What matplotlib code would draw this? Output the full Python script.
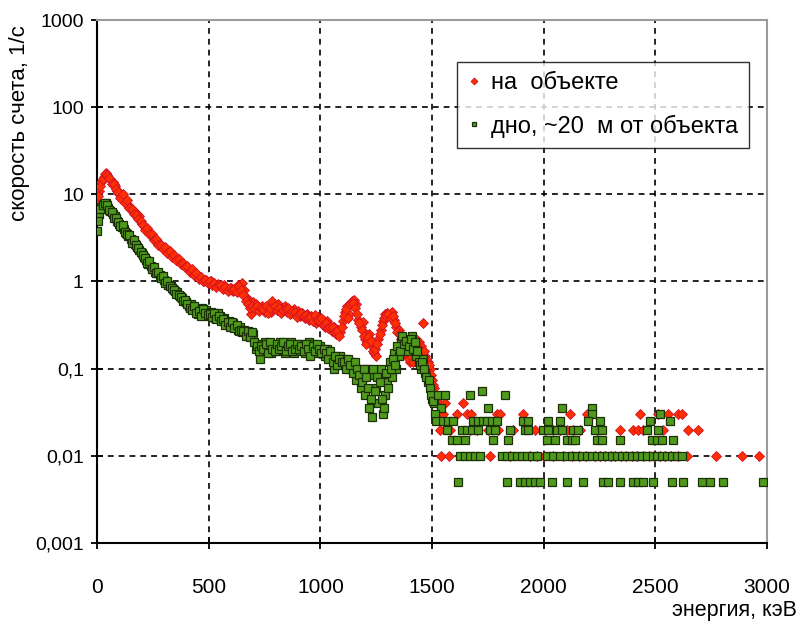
import matplotlib
matplotlib.use('Agg')
import matplotlib.pyplot as plt
import numpy as np

plt.rcParams['font.family'] = ['Liberation Sans', 'DejaVu Sans']

# channel energies of the dense part, keV (two interleaved channel sets)
energy = list(range(0, 1520, 10))
energy_mid = list(range(5, 1510, 10))

# "на объекте", counts/s
red_vals = [
    8, 11, 14, 16, 17.5, 16, 15, 14, 12.5, 11,
    10, 9.5, 8.5, 8, 7.5, 7, 6.5, 6.2, 6, 5.6,
    4.6, 4.3, 4, 3.8, 3.4, 3.2, 3, 2.8, 2.7, 2.5,
    2.4, 2.3, 2.2, 2.1, 1.95, 1.85, 1.75, 1.7, 1.6, 1.55,
    1.45, 1.4, 1.35, 1.28, 1.2, 1.15, 1.1, 1.08, 1.0, 1.05,
    0.98, 1.0, 0.95, 0.9, 0.93, 0.88, 0.85, 0.9, 0.82, 0.8,
    0.85, 0.78, 0.8, 0.9, 0.85, 0.95, 0.8, 0.65, 0.6, 0.42,
    0.58, 0.55, 0.5, 0.48, 0.52, 0.45, 0.5, 0.47, 0.45, 0.55,
    0.5, 0.55, 0.48, 0.5, 0.52, 0.45, 0.47, 0.44, 0.48, 0.42,
    0.46, 0.4, 0.44, 0.38, 0.42, 0.36, 0.4, 0.37, 0.33, 0.39,
    0.34, 0.36, 0.3, 0.35, 0.32, 0.27, 0.3, 0.25, 0.28, 0.26,
    0.35, 0.45, 0.52, 0.42, 0.6, 0.62, 0.55, 0.36, 0.3, 0.34,
    0.22, 0.2, 0.25, 0.18, 0.15, 0.14, 0.22, 0.28, 0.35, 0.42,
    0.44, 0.4, 0.45, 0.36, 0.3, 0.28, 0.22, 0.2, 0.16, 0.14,
    0.12, 0.15, 0.13, 0.22, 0.2, 0.18, 0.33, 0.14, 0.12, 0.1,
    0.075, 0.06,
]
red_vals_mid = [
    9.5, 12.5, 15, 17, 16.5, 15.5, 13, 13, 11.5, 10.5,
    9, 10, 8, 8.5, 7, 6.8, 6, 5.8, 5.2, 5,
    4.4, 3.9, 4.1, 3.5, 3.5, 3.0, 3.1, 2.6, 2.6, 2.35,
    2.5, 2.15, 2.25, 1.9, 2.0, 1.75, 1.8, 1.6, 1.65, 1.45,
    1.5, 1.3, 1.38, 1.2, 1.25, 1.08, 1.12, 1.0, 1.05, 0.95,
    1.02, 0.9, 0.97, 0.86, 0.9, 0.92, 0.83, 0.87, 0.78, 0.84,
    0.8, 0.83, 0.75, 0.88, 0.8, 0.7, 0.6, 0.55, 0.5, 0.52,
    0.5, 0.52, 0.46, 0.5, 0.48, 0.52, 0.44, 0.5, 0.6, 0.52,
    0.47, 0.5, 0.44, 0.47, 0.48, 0.5, 0.42, 0.46, 0.45, 0.39,
    0.42, 0.43, 0.4, 0.41, 0.38, 0.39, 0.35, 0.41, 0.36, 0.36,
    0.38, 0.32, 0.33, 0.29, 0.3, 0.3, 0.26, 0.27, 0.24, 0.3,
    0.4, 0.48, 0.38, 0.55, 0.57, 0.5, 0.42, 0.33, 0.28, 0.24,
    0.19, 0.23, 0.21, 0.16, 0.17, 0.19, 0.25, 0.32, 0.38, 0.4,
    0.42, 0.38, 0.4, 0.33, 0.26, 0.25, 0.24, 0.18, 0.15, 0.13,
    0.14, 0.12, 0.2, 0.18, 0.16, 0.15, 0.16, 0.13, 0.11, 0.085,
    0.065,
]

# "дно, ~20 м от объекта"
green_vals = [
    3.8, 6, 7.2, 7.8, 8, 7, 6.5, 6, 5.6, 5,
    4.6, 4.2, 4, 3.6, 3.3, 3.1, 2.9, 2.7, 2.5, 2.3,
    2.1, 1.9, 1.75, 1.6, 1.5, 1.4, 1.3, 1.25, 1.2, 1.12,
    1.05, 0.98, 0.92, 0.88, 0.82, 0.78, 0.75, 0.68, 0.65, 0.6,
    0.58, 0.52, 0.55, 0.5, 0.48, 0.42, 0.45, 0.5, 0.43, 0.47,
    0.4, 0.45, 0.42, 0.38, 0.44, 0.4, 0.36, 0.38, 0.33, 0.35,
    0.31, 0.33, 0.3, 0.28, 0.3, 0.26, 0.28, 0.25, 0.26, 0.24,
    0.25, 0.17, 0.19, 0.13, 0.16, 0.2, 0.17, 0.18, 0.15, 0.19,
    0.16, 0.18, 0.2, 0.17, 0.15, 0.19, 0.17, 0.2, 0.15, 0.18,
    0.16, 0.19, 0.17, 0.15, 0.18, 0.2, 0.16, 0.19, 0.17, 0.15,
    0.18, 0.16, 0.14, 0.17, 0.15, 0.14, 0.1, 0.13, 0.12, 0.14,
    0.11, 0.13, 0.12, 0.1, 0.12, 0.11, 0.075, 0.1, 0.06, 0.08,
    0.05, 0.1, 0.035, 0.028, 0.085, 0.06, 0.04, 0.1, 0.03, 0.05,
    0.07, 0.12, 0.08, 0.15, 0.1, 0.14, 0.2, 0.17, 0.22, 0.16,
    0.2, 0.24, 0.18, 0.14, 0.12, 0.1, 0.13, 0.09, 0.07, 0.06,
    0.045, 0.04,
]
green_vals_mid = [
    5, 6.8, 7.5, 8, 7.5, 6.6, 6.2, 5.3, 5.3, 4.8,
    4.3, 4.4, 3.7, 3.5, 3.4, 2.8, 3.0, 2.6, 2.4, 2.2,
    2.0, 1.85, 1.65, 1.7, 1.4, 1.45, 1.25, 1.3, 1.1, 1.15,
    0.95, 1.0, 0.88, 0.85, 0.8, 0.72, 0.7, 0.66, 0.6, 0.62,
    0.55, 0.5, 0.47, 0.52, 0.44, 0.46, 0.4, 0.48, 0.44, 0.41,
    0.42, 0.39, 0.43, 0.37, 0.4, 0.35, 0.37, 0.32, 0.34, 0.3,
    0.34, 0.29, 0.32, 0.27, 0.28, 0.27, 0.24, 0.27, 0.23, 0.26,
    0.2, 0.18, 0.16, 0.18, 0.17, 0.19, 0.15, 0.2, 0.17, 0.16,
    0.19, 0.17, 0.18, 0.2, 0.16, 0.18, 0.19, 0.16, 0.17, 0.19,
    0.17, 0.18, 0.16, 0.19, 0.17, 0.14, 0.18, 0.16, 0.19, 0.17,
    0.15, 0.17, 0.15, 0.13, 0.16, 0.12, 0.14, 0.11, 0.13, 0.12,
    0.12, 0.1, 0.13, 0.11, 0.09, 0.12, 0.1, 0.085, 0.07, 0.1,
    0.08, 0.06, 0.045, 0.1, 0.055, 0.08, 0.07, 0.045, 0.035, 0.09,
    0.06, 0.1, 0.13, 0.11, 0.18, 0.16, 0.24, 0.19, 0.21, 0.18,
    0.22, 0.17, 0.2, 0.16, 0.11, 0.12, 0.1, 0.08, 0.075, 0.05,
    0.042,
]

# sparse high-energy channels: count rate level -> energies
red_tail = {
    0.045: [1520],
    0.04: [1530, 1560, 1640],
    0.03: [1550, 1612, 1657, 1675, 1791, 1805, 1908, 2118, 2194,
           2432, 2513, 2557, 2602, 2620],
    0.02: [1536, 1580, 1670, 1702, 1751, 1796, 1863, 1962, 2006, 2042,
           2073, 2105, 2132, 2163, 2239, 2342, 2400, 2423, 2446, 2535,
           2647, 2692],
    0.01: [1540, 1576, 1760, 1850, 1939, 1970, 2000, 2042, 2087, 2127,
           2160, 2190, 2230, 2250, 2275, 2300, 2320, 2345, 2370, 2395,
           2420, 2445, 2470, 2495, 2520, 2545, 2570, 2600, 2643, 2772,
           2889, 2965],
}

green_tail = {
    0.056: [1725],
    0.05: [1525, 1560, 1670, 1827],
    0.035: [1540, 1751, 2082, 2217],
    0.03: [1515, 2217, 2521],
    0.025: [1520, 1549, 1572, 1594, 1684, 1706, 1729, 1747, 1769, 1791,
            1908, 1930, 2020, 2073, 2199, 2253, 2476, 2565],
    0.02: [1567, 1634, 1657, 1679, 1706, 1760, 1782, 1849, 1917, 1930,
           1997, 2020, 2060, 2082, 2132, 2154, 2230, 2261, 2463, 2512],
    0.015: [1590, 1612, 1648, 1773, 1840, 2015, 2051, 2105, 2127, 2141,
            2239, 2262, 2342, 2485, 2508, 2530, 2579],
    0.01: [1626, 1648, 1670, 1693, 1715, 1813, 1836, 1858, 1881, 1903,
           1926, 1948, 1970, 2015, 2042, 2073, 2105, 2127, 2150, 2172,
           2194, 2217, 2239, 2262, 2284, 2306, 2329, 2351, 2373, 2396,
           2418, 2441, 2463, 2490, 2508, 2530, 2553, 2575, 2597, 2620],
    0.005: [1617, 1836, 1894, 1917, 1939, 1962, 1984, 2038, 2105, 2176,
            2266, 2289, 2342, 2400, 2423, 2446, 2490, 2575, 2624, 2709,
            2745, 2803, 2982],
}

x_ticks = [0, 500, 1000, 1500, 2000, 2500, 3000]
y_ticks = [0.001, 0.01, 0.1, 1, 10, 100, 1000]
y_tick_labels = ['0,001', '0,01', '0,1', '1', '10', '100', '1000']
labels = ['на  объекте', 'дно, ~20  м от объекта']


def unpack(vals, vals_mid, tail):
    xs = list(energy) + list(energy_mid)
    ys = list(vals) + list(vals_mid)
    for level, es in tail.items():
        xs += es
        ys += [level] * len(es)
    return xs, ys


red_x, red_y = unpack(red_vals, red_vals_mid, red_tail)
green_x, green_y = unpack(green_vals, green_vals_mid, green_tail)

fig = plt.figure(figsize=(8, 6.33), dpi=100)
ax = fig.add_axes([0.12125, 0.1422, 0.8375, 0.8262])

ax.plot(red_x, red_y, ls='none', marker='D', ms=5.4, mfc='#ff3000',
        mec='#d0102a', mew=0.6, label=labels[0], zorder=3)
ax.plot(green_x, green_y, ls='none', marker='s', ms=5.2, mfc='#4f9a1c',
        mec='#1c3008', mew=0.9, label=labels[1], zorder=4)

ax.set_yscale('log')
ax.set_xlim(0, 3000)
ax.set_ylim(0.001, 1000)
ax.set_xticks(x_ticks)
ax.set_yticks(y_ticks)
ax.set_yticklabels(y_tick_labels)
ax.yaxis.set_minor_locator(matplotlib.ticker.NullLocator())

ax.grid(True, color='black', lw=1.2, ls=(0, (3.5, 3)))
ax.get_xgridlines()[-1].set_visible(False)
ax.get_ygridlines()[-1].set_visible(False)
ax.set_axisbelow(True)

for side in ['left', 'bottom']:
    ax.spines[side].set_linewidth(1.5)
    ax.spines[side].set_color('black')
for side in ['right', 'top']:
    ax.spines[side].set_linewidth(1.5)
    ax.spines[side].set_color('#9a9a9a')

ax.tick_params(axis='both', direction='inout', length=9, width=1.3, color='black')
ax.tick_params(axis='y', labelsize=14, pad=5)
ax.tick_params(axis='x', labelsize=15, pad=21)

fig.text(0.025, 0.805, 'скорость счета, 1/с', rotation=90, ha='center',
         va='center', fontsize=16)
fig.text(0.996, 0.036, 'энергия, кэВ', ha='right', va='center', fontsize=15.5)

leg = ax.legend(loc='upper left', bbox_to_anchor=(0.537, 0.92), fontsize=17,
                markerscale=0.65, frameon=True, fancybox=False, edgecolor='black',
                handlelength=0.6, handletextpad=0.4, labelspacing=0.85,
                borderpad=0.45, borderaxespad=0)
leg.get_frame().set_linewidth(1.0)

fig.savefig('out.png', dpi=100)
